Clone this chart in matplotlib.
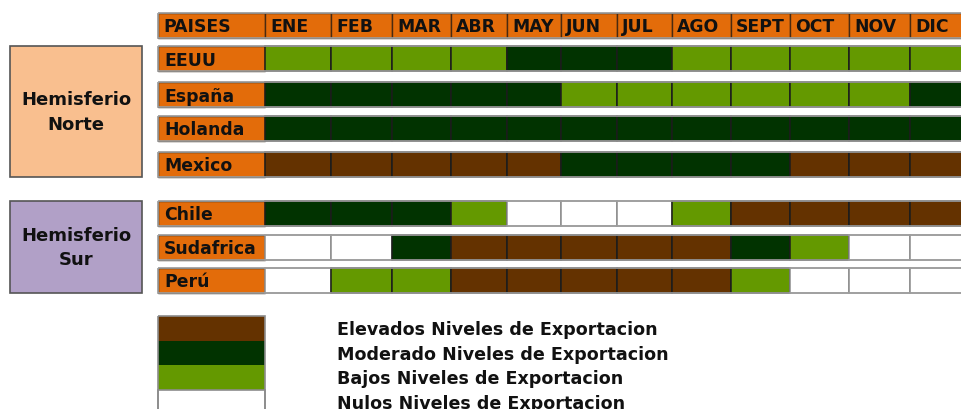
import matplotlib.pyplot as plt
from matplotlib.patches import Rectangle

# data
meses = ['ENE', 'FEB', 'MAR', 'ABR', 'MAY', 'JUN', 'JUL', 'AGO', 'SEPT', 'OCT', 'NOV', 'DIC']
paises_norte = ['EEUU', 'España', 'Holanda', 'Mexico']
paises_sur = ['Chile', 'Sudafrica', 'Perú']
# E = elevado, M = moderado, B = bajo, N = nulo
niveles_norte = [
    ['B', 'B', 'B', 'B', 'M', 'M', 'M', 'B', 'B', 'B', 'B', 'B'],
    ['M', 'M', 'M', 'M', 'M', 'B', 'B', 'B', 'B', 'B', 'B', 'M'],
    ['M', 'M', 'M', 'M', 'M', 'M', 'M', 'M', 'M', 'M', 'M', 'M'],
    ['E', 'E', 'E', 'E', 'E', 'M', 'M', 'M', 'M', 'E', 'E', 'E'],
]
niveles_sur = [
    ['M', 'M', 'M', 'B', 'N', 'N', 'N', 'B', 'E', 'E', 'E', 'E'],
    ['N', 'N', 'M', 'E', 'E', 'E', 'E', 'E', 'M', 'B', 'N', 'N'],
    ['N', 'B', 'B', 'E', 'E', 'E', 'E', 'E', 'B', 'N', 'N', 'N'],
]
leyenda = ['Elevados Niveles de Exportacion', 'Moderado Niveles de Exportacion',
           'Bajos Niveles de Exportacion', 'Nulos Niveles de Exportacion']
codigos = ['E', 'M', 'B', 'N']

# styles / layout
colores = {'E': '#643200', 'M': '#013300', 'B': '#649900', 'N': '#ffffff'}
naranja = '#E36C0A'
col_edges = [158, 265, 331, 392, 451, 507, 561, 617, 672, 731, 790, 849, 910, 968]
row_h = 25
header_y = 14
norte_y = [47, 83, 117, 153]
sur_y = [202, 236, 269]
font = dict(family='DejaVu Sans', fontweight='bold', color='#111111')

fig = plt.figure(figsize=(9.61, 4.10), dpi=100)
ax = fig.add_axes([0, 0, 1, 1])
ax.set_xlim(0, 961)
ax.set_ylim(410, 0)
ax.axis('off')


def fila(y, etiqueta, valores):
    ax.add_patch(Rectangle((col_edges[0], y), col_edges[1] - col_edges[0], row_h,
                           facecolor=naranja, edgecolor='#3a2a1a', lw=1))
    ax.text(col_edges[0] + 6, y + row_h / 2 + 1, etiqueta, fontsize=12.4, va='center', **font)
    for j, v in enumerate(valores):
        x0, x1 = col_edges[j + 1], col_edges[j + 2]
        ec = '#8c8c8c' if v == 'N' else '#1c1c1c'
        ax.add_patch(Rectangle((x0, y), x1 - x0, row_h, facecolor=colores[v],
                               edgecolor=ec, lw=1.1))
    ax.add_patch(Rectangle((col_edges[0], y), col_edges[-1] - col_edges[0], row_h,
                           facecolor='none', edgecolor='#a0a0a0', lw=1.2))


# header
encabezado = ['PAISES'] + meses
for j, t in enumerate(encabezado):
    x0, x1 = col_edges[j], col_edges[j + 1]
    ax.add_patch(Rectangle((x0, header_y), x1 - x0, row_h, facecolor=naranja,
                           edgecolor='#4a2a10', lw=1))
    ax.text(x0 + 5, header_y + row_h / 2 + 1, t, fontsize=12.4, va='center', **font)
ax.add_patch(Rectangle((col_edges[0], header_y), col_edges[-1] - col_edges[0], row_h,
                       facecolor='none', edgecolor='#a0a0a0', lw=1.2))

for y, p, v in zip(norte_y, paises_norte, niveles_norte):
    fila(y, p, v)
for y, p, v in zip(sur_y, paises_sur, niveles_sur):
    fila(y, p, v)

# hemisphere boxes
ax.add_patch(Rectangle((10, norte_y[0]), 132, norte_y[-1] + row_h - norte_y[0],
                       facecolor='#F9BF8F', edgecolor='#555555', lw=1.2))
ax.text(76, (norte_y[0] + norte_y[-1] + row_h) / 2, 'Hemisferio\nNorte', fontsize=13,
        ha='center', va='center', linespacing=1.45, **font)
ax.add_patch(Rectangle((10, sur_y[0]), 132, sur_y[-1] + row_h - sur_y[0],
                       facecolor='#B1A0C7', edgecolor='#555555', lw=1.2))
ax.text(76, (sur_y[0] + sur_y[-1] + row_h) / 2, 'Hemisferio\nSur', fontsize=13,
        ha='center', va='center', linespacing=1.45, **font)

# legend
leg_y = 317
leg_h = 24.6
for i, (c, t) in enumerate(zip(codigos, leyenda)):
    y = leg_y + i * leg_h
    ax.add_patch(Rectangle((col_edges[0], y), col_edges[1] - col_edges[0], leg_h,
                           facecolor=colores[c], edgecolor='#8c8c8c' if c == 'N' else 'none',
                           lw=1.2))
    ax.text(337, y + leg_h / 2 + 1, t, fontsize=12.6, va='center', **font)
ax.add_patch(Rectangle((col_edges[0], leg_y), col_edges[1] - col_edges[0], 4 * leg_h,
                       facecolor='none', edgecolor='#8c8c8c', lw=1.2))

fig.savefig('out.png', dpi=100)
